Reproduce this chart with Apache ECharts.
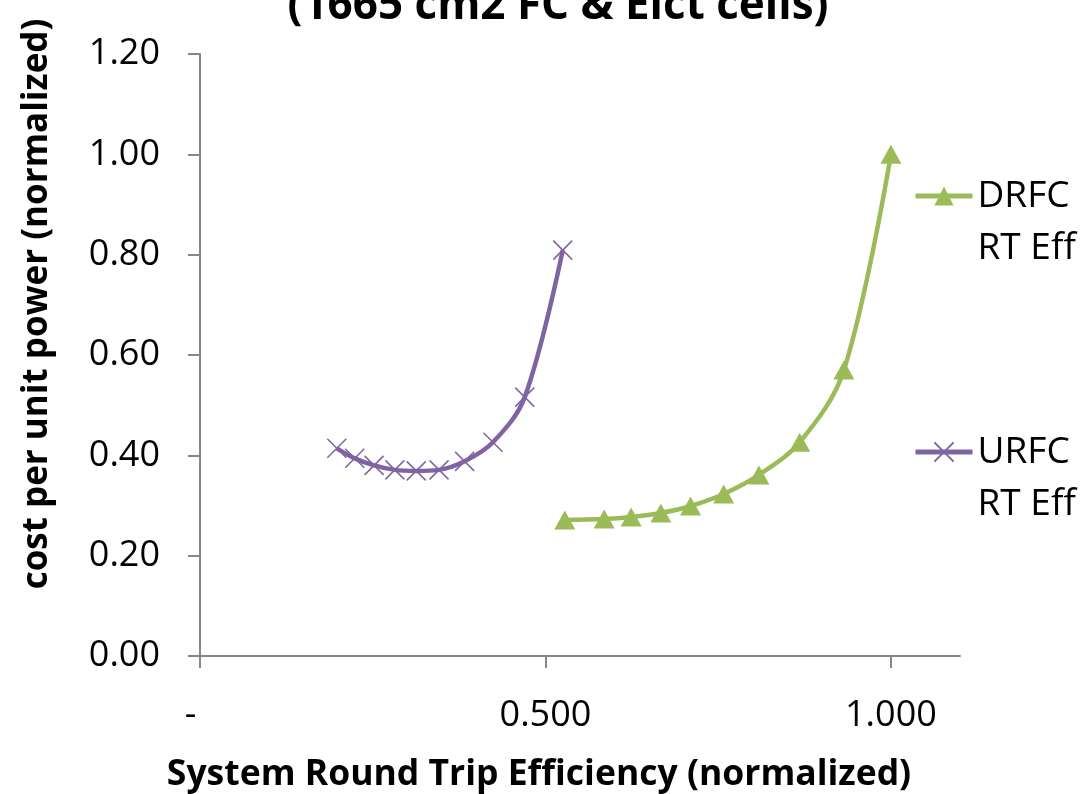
<!DOCTYPE html>
<html>
<head>
<meta charset="utf-8">
<script src="https://cdn.jsdelivr.net/npm/echarts@6/dist/echarts.min.js"></script>
<style>
html,body{margin:0;padding:0;background:#fff;}
#chart{width:1088px;height:794px;}
</style>
</head>
<body>
<div id="chart"></div>
<script>
// ---- data ----
const titleText = '(1665 cm2 FC & Elct cells)';
const xAxisTitle = 'System Round Trip Efficiency (normalized)';
const yAxisTitle = 'cost per unit power (normalized)';
const seriesNames = ['DRFC RT Eff', 'URFC RT Eff'];
const drfcX = [0.528, 0.585, 0.624, 0.667, 0.710, 0.758, 0.809, 0.868, 0.932, 1.000];
const drfcY = [0.271, 0.273, 0.277, 0.285, 0.299, 0.323, 0.361, 0.426, 0.570, 1.000];
const urfcX = [0.198, 0.224, 0.252, 0.282, 0.313, 0.346, 0.383, 0.424, 0.470, 0.525];
const urfcY = [0.414, 0.394, 0.380, 0.371, 0.369, 0.371, 0.388, 0.426, 0.516, 0.809];
const xTicks = [0, 0.5, 1.0];

const FONT = 'Open Sans';
const green = '#9BBB59';
const purple = '#8064A2';
const axisGray = '#868686';

const pairs = (xs, ys) => xs.map((x, i) => [x, ys[i]]);
const crossPath = 'path://M0,0L20,20M20,0L0,20';

const chart = echarts.init(document.getElementById('chart'), null, {renderer: 'canvas'});

function legendFor(name, top) {
  return {
    data: [name],
    orient: 'vertical',
    left: 913,
    top: top,
    padding: 0,
    itemWidth: 57,
    itemHeight: 24,
    itemGap: 0,
    lineStyle: {width: 5},
    formatter: n => '\n' + n.replace(' ', '\n'),
    textStyle: {
      fontFamily: FONT, fontSize: 37, color: '#000',
      lineHeight: 52
    }
  };
}

chart.setOption({
  animation: false,
  backgroundColor: '#fff',
  grid: {left: 200, right: 128, top: 54, bottom: 138, containLabel: false},
  xAxis: {
    type: 'value', min: 0, max: 1.1, interval: 0.5,
    axisLine: {show: true, onZero: false, lineStyle: {color: axisGray, width: 2}},
    axisTick: {show: true, inside: false, length: 12, customValues: xTicks, lineStyle: {color: axisGray, width: 2}},
    splitLine: {show: false},
    axisLabel: {
      customValues: xTicks,
      margin: 42,
      fontFamily: FONT, fontSize: 36, color: '#000',
      formatter: v => v === 0 ? '-  ' : v.toFixed(3)
    }
  },
  yAxis: {
    type: 'value', min: 0, max: 1.2, interval: 0.2,
    axisLine: {show: true, onZero: false, lineStyle: {color: axisGray, width: 2}},
    axisTick: {show: true, inside: false, length: 12, lineStyle: {color: axisGray, width: 2}},
    splitLine: {show: false},
    axisLabel: {
      margin: 40,
      fontFamily: FONT, fontSize: 36, color: '#000',
      formatter: v => v.toFixed(2)
    }
  },
  legend: [legendFor(seriesNames[0], 118), legendFor(seriesNames[1], 374)],
  graphic: [
    {
      type: 'text', x: 558, y: 28,
      style: {text: titleText, textAlign: 'center', textVerticalAlign: 'bottom',
        font: 'bold 44px "' + FONT + '"', fill: '#000'}
    },
    {
      type: 'text', x: 539, y: 775,
      style: {text: xAxisTitle, textAlign: 'center', textVerticalAlign: 'middle',
        font: 'bold 35.5px "' + FONT + '"', fill: '#000'}
    },
    {
      type: 'text', x: 37, y: 304, rotation: Math.PI / 2,
      style: {text: yAxisTitle, textAlign: 'center', textVerticalAlign: 'middle',
        font: 'bold 35px "' + FONT + '"', fill: '#000'}
    }
  ],
  series: [
    {
      name: seriesNames[0], type: 'line', smooth: 0.35,
      data: pairs(drfcX, drfcY),
      symbol: 'triangle', symbolSize: [21, 19],
      lineStyle: {color: green, width: 4.5},
      itemStyle: {color: green, borderWidth: 0}
    },
    {
      name: seriesNames[1], type: 'line', smooth: 0.35,
      data: pairs(urfcX, urfcY),
      symbol: crossPath, symbolSize: 19,
      lineStyle: {color: purple, width: 4.5},
      itemStyle: {color: purple, borderColor: purple, borderWidth: 1.5}
    }
  ]
});
</script>
</body>
</html>
